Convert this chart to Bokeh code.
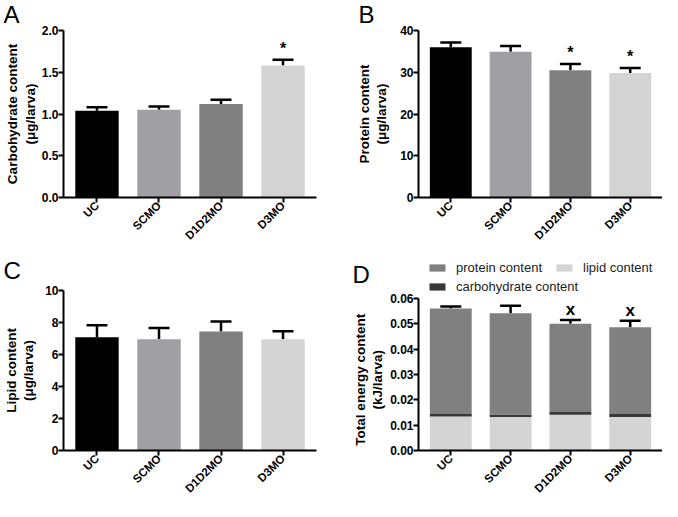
import math
from bokeh.plotting import figure
from bokeh.models import (ColumnDataSource, Whisker, TeeHead, Label, Legend, LegendItem,
                          FactorRange, Range1d, FixedTicker, NumeralTickFormatter, LinearAxis)
from bokeh.layouts import row, column
from bokeh.embed import file_html
from bokeh.resources import INLINE
from bokeh.core.properties import value

# ---------------- data ----------------
groups = ["UC", "SCMO", "D1D2MO", "D3MO"]
bar_colors = ["#000000", "#a0a0a4", "#808080", "#d4d4d4"]

carb_mean = [1.04, 1.05, 1.12, 1.58]
carb_sem = [0.04, 0.04, 0.05, 0.07]
carb_sig = ["", "", "", "*"]

protein_mean = [36.0, 34.9, 30.5, 29.8]
protein_sem = [1.1, 1.4, 1.5, 1.2]
protein_sig = ["", "", "*", "*"]

lipid_mean = [7.08, 6.96, 7.44, 6.95]
lipid_sem = [0.75, 0.70, 0.62, 0.50]
lipid_sig = ["", "", "", ""]

energy_lipid = [0.0134, 0.0132, 0.0141, 0.0132]
energy_carb = [0.0010, 0.0010, 0.0011, 0.0012]
energy_protein = [0.0416, 0.0399, 0.0348, 0.0342]
energy_sem = [0.0008, 0.0030, 0.0015, 0.0026]
energy_sig = ["", "", "x", "x"]

stack_colors = {"protein": "#808080", "lipid": "#d4d4d4", "carb": "#383838"}

FONT = "Liberation Sans"
TITLE_SIZE = "13.5px"


def title_style(ax, text, standoff):
    ax.axis_label = text
    ax.axis_label_text_font = FONT
    ax.axis_label_text_font_style = "bold"
    ax.axis_label_text_font_size = TITLE_SIZE
    ax.axis_label_text_color = "black"
    ax.axis_label_standoff = standoff


def base_fig(width, height, left, right, top, bottom, yend, ticks, fmt,
             ylabel1, ylabel2, standoff2):
    p = figure(x_range=FactorRange(factors=groups, range_padding=0.02),
               y_range=Range1d(0, yend), width=width, height=height,
               min_border_left=left, min_border_right=right,
               min_border_top=top, min_border_bottom=bottom,
               output_backend="svg", toolbar_location=None, tools="")
    p.outline_line_color = None
    p.xgrid.visible = False
    p.ygrid.visible = False
    for ax in (p.xaxis[0], p.yaxis[0]):
        ax.axis_line_width = 2
        ax.axis_line_color = "black"
        ax.major_tick_line_width = 2
        ax.major_tick_line_color = "black"
        ax.major_tick_out = 5
        ax.major_tick_in = 0
        ax.minor_tick_line_color = None
        ax.major_label_text_font = FONT
        ax.major_label_text_font_style = "bold"
        ax.major_label_text_color = "black"
    p.xaxis.major_label_text_font_size = "11.5px"
    p.xaxis.major_label_orientation = math.pi / 4
    p.xaxis.major_label_standoff = 1
    p.yaxis.major_label_text_font_size = "12px"
    p.yaxis.major_label_standoff = 0
    p.yaxis.ticker = FixedTicker(ticks=ticks)
    p.yaxis.formatter = NumeralTickFormatter(format=fmt)
    # second title line on the main axis, first title line on an outer axis
    title_style(p.yaxis[0], ylabel2, standoff2)
    outer = LinearAxis(ticker=FixedTicker(ticks=[]), axis_line_color=None,
                       major_tick_line_color=None, minor_tick_line_color=None,
                       major_tick_out=0, major_tick_in=0, minor_tick_out=0,
                       minor_tick_in=0, major_label_standoff=0)
    title_style(outer, ylabel1, 0)
    p.add_layout(outer, "left")
    return p


def add_errors(p, src, sig_size, yoff):
    w = Whisker(base="x", lower="mean", upper="upper", source=src, dimension="height",
                line_width=2.5, line_color="black",
                upper_head=TeeHead(size=21, line_width=2.5, line_color="black"),
                lower_head=None)
    p.add_layout(w)
    p.text(x="x", y="upper", text="sig", source=src, y_offset=yoff,
           text_align="center", text_baseline="bottom",
           text_font=value(FONT), text_font_style="bold",
           text_font_size=sig_size, text_color="black")


def letter_label(txt, x, y):
    return Label(x=x, y=y, x_units="screen", y_units="screen", text=txt,
                 text_font=FONT, text_font_size="24px", text_baseline="top",
                 text_color="black")


def simple_panel(width, height, left, right, top, bottom, ymax, ticks, fmt,
                 ylabel1, ylabel2, standoff2, means, sems, sig):
    p = base_fig(width, height, left, right, top, bottom, ymax, ticks, fmt,
                 ylabel1, ylabel2, standoff2)
    src = ColumnDataSource(dict(x=groups, mean=means,
                                upper=[m + s for m, s in zip(means, sems)],
                                sig=sig, color=bar_colors))
    p.vbar(x="x", top="mean", width=0.7, source=src, fill_color="color", line_color=None)
    add_errors(p, src, "16px", -3)
    return p


H_TOP, H_BOT = 248, 253
pA = simple_panel(332, H_TOP, 60, 16, 30, 50, 2.0, [0, 0.5, 1.0, 1.5, 2.0], "0.0",
                  "Carbohydrate content", "(μg/larva)", 1,
                  carb_mean, carb_sem, carb_sig)
pB = simple_panel(330, H_TOP, 85, 0, 30, 50, 40, [0, 10, 20, 30, 40], "0",
                  "Protein content", "(μg/larva)", 8,
                  protein_mean, protein_sem, protein_sig)
pC = simple_panel(332, H_BOT, 60, 16, 42, 50, 10, [0, 2, 4, 6, 8, 10], "0",
                  "Lipid content", "(μg/larva)", 6,
                  lipid_mean, lipid_sem, lipid_sig)

# panel letters, placed in side panels
pA.add_layout(letter_label("A", -60, 30), "above")
pB.add_layout(letter_label("B", -60, 30), "above")
pC.add_layout(letter_label("C", -60, 34), "above")

# panel D: stacked energy content (frame extended upward to hold the legend;
# the titles are padded with no-break spaces so they centre on the 0-0.06 axis)
PAD = "\u00a0" * 14
pD = base_fig(330, H_BOT, 85, 0, 8, 50, 0.0765,
              [0, 0.01, 0.02, 0.03, 0.04, 0.05, 0.06], "0.00",
              "Total energy content" + PAD, "(kJ/larva)" + PAD, 2)
pD.yaxis[0].bounds = (0, 0.06)
srcD = ColumnDataSource(dict(x=groups, lipid=energy_lipid, carb=energy_carb,
                             protein=energy_protein))
rs = pD.vbar_stack(["lipid", "carb", "protein"], x="x", width=0.7, source=srcD,
                   color=[stack_colors["lipid"], stack_colors["carb"], stack_colors["protein"]],
                   line_color=None)
totals = [a + b + c for a, b, c in zip(energy_lipid, energy_carb, energy_protein)]
srcE = ColumnDataSource(dict(x=groups, mean=totals,
                             upper=[t + s for t, s in zip(totals, energy_sem)],
                             sig=energy_sig))
add_errors(pD, srcE, "17px", -1)
pD.add_layout(letter_label("D", 20, 190), "left")

leg_kw = dict(glyph_width=20, glyph_height=9, label_height=9, label_standoff=9,
              padding=0, margin=0, spacing=12, border_line_alpha=0,
              background_fill_alpha=0, label_text_font=FONT,
              label_text_font_size="13px", label_text_color="#222222")
leg1 = Legend(items=[LegendItem(label="protein content", renderers=[rs[2]]),
                     LegendItem(label="lipid content", renderers=[rs[0]])],
              orientation="horizontal", location=(9, 175), **leg_kw)
leg2 = Legend(items=[LegendItem(label="carbohydrate content", renderers=[rs[1]])],
              orientation="horizontal", location=(9, 156), **leg_kw)
pD.add_layout(leg1)
pD.add_layout(leg2)

layout = row(column(pA, pC), column(pB, pD))

open("out.html", "w").write(file_html(layout, INLINE))
